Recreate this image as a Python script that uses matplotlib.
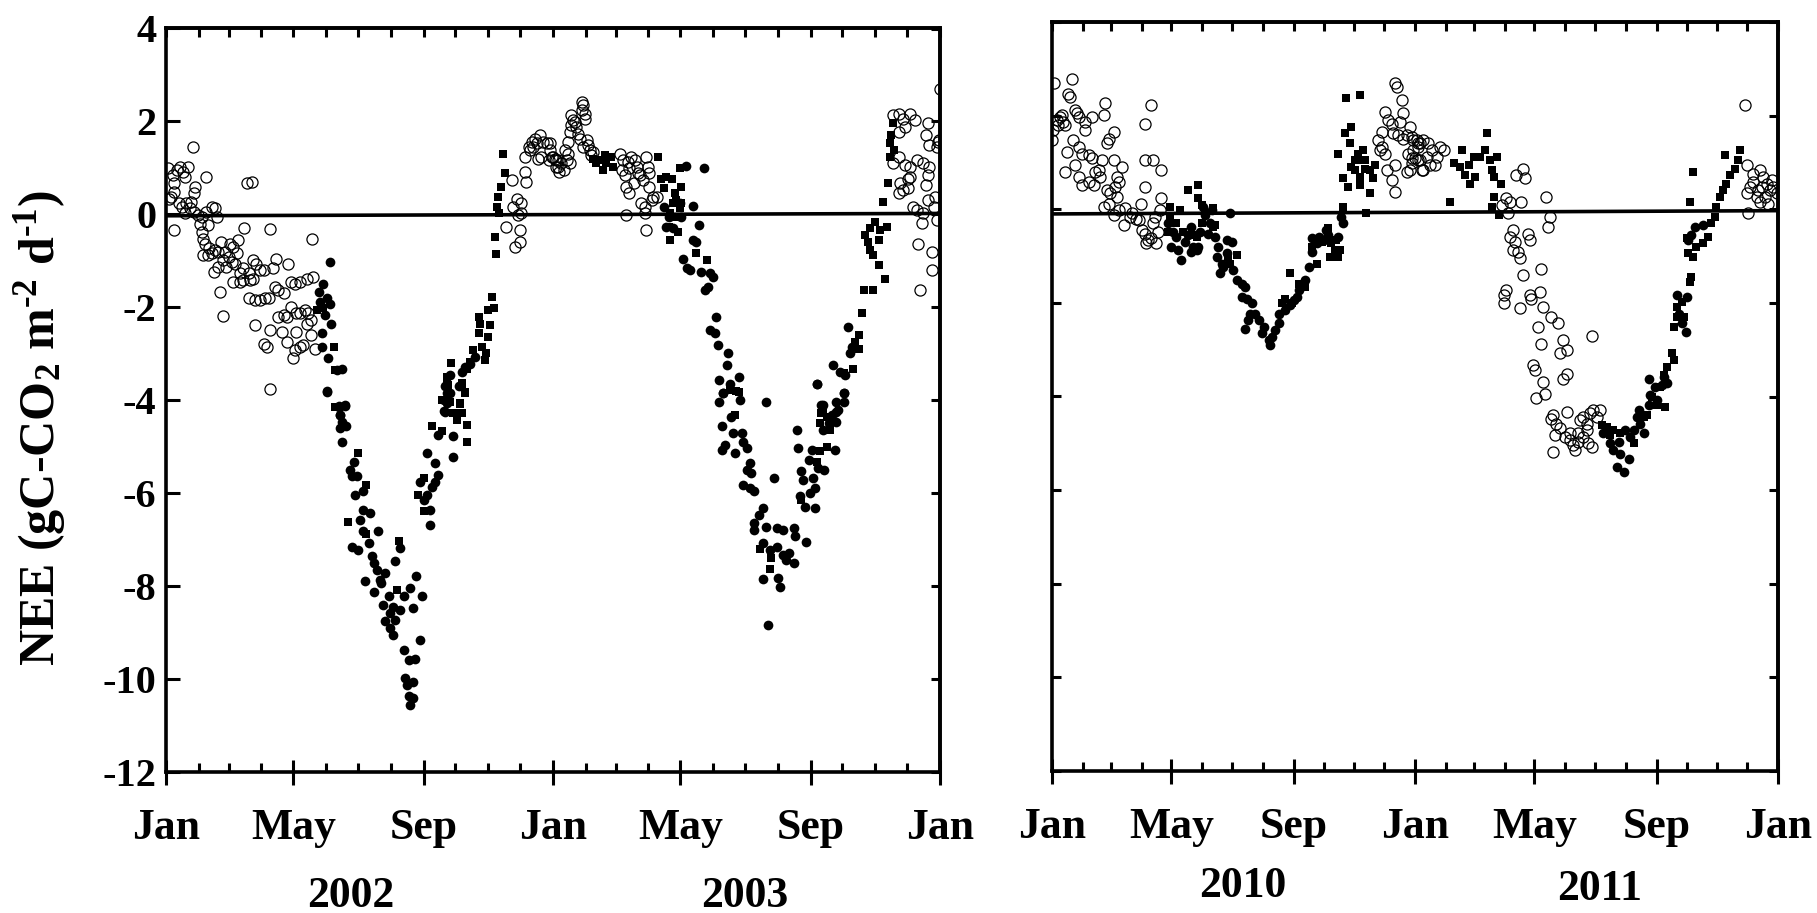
import matplotlib
matplotlib.use("Agg")
import matplotlib.pyplot as plt
import numpy as np
from matplotlib.transforms import blended_transform_factory

plt.rcParams['font.family'] = ['Liberation Serif', 'DejaVu Serif']
plt.rcParams['font.weight'] = 'bold'
plt.rcParams['axes.unicode_minus'] = False
plt.rcParams['mathtext.fontset'] = 'custom'
plt.rcParams['mathtext.rm'] = 'Liberation Serif:bold'
plt.rcParams['mathtext.it'] = 'Liberation Serif:bold'
plt.rcParams['mathtext.bf'] = 'Liberation Serif:bold'

# ---------------- data: (day since 1 Jan of first year, NEE) ----------------
left_open = [
    (2,0.99),(3,0.34),(7,0.85),(8,0.67),(10,0.95),(13,1.02),(16,0.92),(21,1.02),(18,0.81),(8,0.49),
    (5,0.38),(12,0.24),(15,0.16),(19,0.24),(24,0.27),(26,0.45),(27,0.59),(23,0.13),(18,0.02),(26,0.06),
    (30,-0.02),(8,-0.34),(25,1.46),(38,0.80),(34,-0.05),(38,0.06),(43,0.16),(46,0.13),(48,-0.05),(32,-0.20),
    (40,-0.23),(34,-0.37),(35,-0.52),(37,-0.63),(41,-0.73),(35,-0.88),(40,-0.88),(43,-0.84),(46,-0.77),(49,-0.80),
    (52,-0.59),(56,-0.80),(60,-0.63),(63,-0.70),(68,-0.55),(74,-0.30),(45,-1.24),(49,-1.13),(54,-0.98),(59,-0.91),
    (62,-1.02),(65,-1.06),(67,-0.84),(57,-1.13),(51,-1.67),(54,-2.19),(70,-1.27),(73,-1.16),(78,-1.27),(82,-0.98),
    (85,-1.06),(89,-1.20),(92,-1.20),(73,-1.41),(63,-1.45),(70,-1.45),(79,-1.41),(82,-1.38),(78,-1.81),(84,-1.85),
    (89,-1.85),(93,-1.81),(97,-1.81),(98,-0.32),(101,-1.16),(104,-0.95),(103,-1.56),(106,-1.63),(111,-1.70),(115,-1.06),
    (118,-1.45),(122,-1.49),(126,-1.45),(133,-1.38),(139,-1.34),(138,-0.52),(106,-2.20),(111,-2.17),(114,-2.20),(118,-1.99),
    (123,-2.13),(126,-2.13),(131,-2.06),(134,-2.13),(137,-2.28),(98,-3.75),(84,-2.38),(92,-2.78),(95,-2.85),(98,-2.49),
    (109,-2.53),(114,-2.74),(120,-3.10),(122,-2.92),(126,-2.85),(129,-2.81),(137,-2.60),(133,-2.35),(123,-2.53),(141,-2.89),
    (76,0.67),(81,0.70),
    (321,-0.27),(329,-0.70),(334,-0.59),(334,-0.34),(335,0.24),(331,0.34),(327,0.16),(326,0.74),(339,0.92),(340,0.70),
    (335,0.02),(332,-0.02),(339,1.24),(342,1.45),(345,1.56),(348,1.63),(353,1.71),(356,1.56),(359,1.53),(351,1.20),
    (354,1.24),(362,1.38),(365,1.24),(368,1.17),(370,1.02),(343,1.38),(346,1.45),(350,1.53),(361,1.17),
    (362,1.53),(364,1.24),(367,1.20),(370,1.17),(373,1.10),(375,0.95),(378,1.17),(381,1.10),(379,1.31),(376,1.38),
    (368,1.02),(371,0.92),(379,1.56),(381,1.78),(382,1.92),(384,2.03),(382,2.14),(386,1.99),(387,1.89),(389,1.74),
    (390,1.63),(392,2.42),(393,2.35),(395,2.17),(392,2.24),(395,2.06),(397,1.60),(398,1.49),(400,1.38),(401,1.28),
    (403,1.35),(393,1.45),(428,1.31),(431,1.17),(430,0.95),(433,0.85),(436,1.13),(437,0.99),(439,1.24),(442,1.17),
    (444,1.02),(445,0.88),(447,0.85),(450,0.74),(453,1.24),(455,1.02),(456,0.88),(459,0.38),(463,0.38),(448,0.24),
    (452,0.16),(434,-0.02),(452,0.02),(453,-0.34),(434,0.59),(437,0.45),(441,0.67),(456,0.59),(458,0.31),
    (686,2.14),(691,2.17),(695,2.06),(702,2.17),(706,2.03),(719,1.96),(730,2.69),(691,1.78),(697,1.89),(717,1.71),
    (720,1.49),(727,1.45),(728,1.56),(729,1.60),(686,1.10),(691,1.24),(697,1.06),(702,1.02),(708,1.17),(714,1.10),
    (720,1.02),(700,0.77),(692,0.67),(695,0.52),(700,0.56),(691,0.45),(705,0.16),(708,0.09),(713,-0.19),(717,0.63),
    (719,0.31),(724,0.16),(725,0.38),(709,-0.63),(722,-0.80),(722,-1.20),(711,-1.63),(727,-0.12),(714,0.02),(702,0.81),
    (719,0.85),
]

left_filled = [
    (155,-1.02),(148,-1.49),(144,-1.67),(145,-1.88),(152,-1.81),(155,-1.92),(150,-2.17),(156,-2.35),(147,-2.56),(147,-2.85),
    (153,-3.10),(161,-3.35),(166,-3.32),(152,-3.82),(163,-4.14),(169,-4.10),(164,-4.32),(268,-3.46),(279,-3.39),(282,-3.28),
    (287,-3.21),(291,-3.06),(265,-3.85),(263,-4.25),(262,-4.00),
    (152,-3.81),(163,-4.13),(169,-4.12),(164,-4.31),(166,-4.46),(164,-4.60),(170,-4.56),(166,-4.89),(177,-5.32),(174,-5.50),
    (175,-5.64),(180,-5.64),(178,-6.03),(186,-5.96),(186,-6.36),(192,-6.43),(183,-6.57),(186,-6.82),(191,-7.07),(200,-6.82),
    (175,-7.15),(181,-7.22),(194,-7.36),(196,-7.51),(199,-7.65),(207,-7.72),(202,-7.86),(188,-7.90),(196,-8.12),(203,-7.94),
    (210,-8.22),(216,-7.47),(221,-7.18),(205,-8.40),(214,-8.44),(221,-8.51),(211,-8.58),(207,-8.76),(216,-8.72),(211,-8.90),
    (214,-9.05),(224,-8.22),(233,-8.47),(230,-8.04),(236,-7.79),(241,-8.22),(240,-9.16),(224,-9.37),(229,-9.59),(235,-9.57),
    (225,-9.98),(233,-10.07),(227,-10.12),(229,-10.37),(233,-10.41),(230,-10.55),(246,-5.14),(254,-5.35),(257,-5.60),(254,-5.75),
    (251,-5.86),(246,-6.03),(243,-6.14),(249,-6.36),(249,-6.68),(257,-4.74),(271,-4.78),(271,-5.22),(262,-4.24),(265,-4.06),
    (268,-3.85),(263,-3.70),(276,-3.70),(240,-5.75),
    (490,1.04),(507,0.99),(497,0.18),(503,-0.23),(497,-0.55),(500,-0.59),(488,-0.95),(491,-1.16),(494,-1.20),(505,-1.24),
    (513,-1.27),(516,-1.34),(508,-1.63),(511,-1.56),(519,-2.20),(513,-2.49),(518,-2.56),(521,-2.81),(530,-2.99),(529,-3.24),
    (522,-3.57),(532,-3.64),(540,-3.49),(525,-3.85),(522,-4.03),(541,-4.00),(566,-4.03),(614,-3.64),(629,-3.24),(636,-3.39),
    (640,-3.46),(643,-2.42),(645,-2.99),(647,-2.85),(639,-3.85),(632,-4.03),(618,-4.10),(632,-4.25),(472,-0.27),(478,-0.30),
    (485,0.24),(486,-0.05),(470,0.16),(474,-0.05),
    (525,-3.85),(533,-4.35),(524,-4.56),(535,-4.71),(543,-4.71),(544,-4.89),(548,-5.03),(527,-4.96),(524,-5.07),(537,-5.14),
    (551,-5.35),(548,-5.50),(552,-5.57),(544,-5.82),(551,-5.89),(555,-5.96),(563,-6.32),(559,-6.47),(555,-6.64),(555,-6.79),
    (566,-6.72),(576,-6.75),(582,-6.79),(592,-6.75),(593,-6.93),(604,-7.05),(563,-7.07),(570,-7.22),(576,-7.15),(582,-7.33),
    (588,-7.29),(592,-7.51),(585,-7.43),(577,-7.83),(579,-8.01),(563,-7.84),(568,-8.83),(573,-5.68),(595,-4.64),(596,-5.03),
    (609,-5.07),(606,-5.28),(599,-5.53),(601,-5.71),(610,-5.68),(612,-5.89),(607,-6.00),(598,-6.07),(603,-6.29),(612,-6.32),
    (615,-5.46),(621,-5.50),(631,-5.07),(620,-4.64),(625,-4.49),(632,-4.46),(628,-4.31),(634,-4.21),(639,-4.03),(639,-3.85),
    (620,-4.10),(614,-3.65),
]

left_square = [
    (318,1.31),(320,0.90),(316,0.59),(313,0.38),(312,0.16),(314,0.02),(310,-0.48),(311,-0.86),(307,-1.77),(309,-2.02),
    (304,-2.06),(295,-2.20),(296,-2.35),(306,-2.38),(295,-2.56),(304,-2.63),(290,-2.92),(298,-2.85),(302,-2.99),(301,-3.14),
    (287,-3.17),(284,-3.32),(269,-3.19),(265,-3.49),(266,-3.67),(279,-3.64),(282,-3.82),(277,-4.07),(279,-4.28),(271,-4.28),
    (158,-2.85),(159,-3.35),(142,-2.06),(148,-2.02),(159,-4.14),
    (181,-5.14),(189,-5.82),(172,-6.61),(189,-6.87),(220,-7.02),(218,-8.08),(251,-4.56),(260,-4.67),(243,-5.68),(238,-6.03),
    (243,-6.39),(284,-4.53),(284,-4.89),(265,-3.63),(279,-3.63),(282,-3.85),(277,-4.06),(274,-4.28),(274,-4.42),(268,-4.03),
    (260,-3.99),
    (464,1.24),(485,0.99),(486,0.59),(477,0.77),(472,0.81),(467,0.77),(470,0.56),(480,0.45),(481,0.31),(478,0.24),
    (486,0.24),(475,0.02),(481,-0.05),(485,0.13),(474,-0.27),(483,-0.37),(475,-0.55),(510,-0.98),(500,-0.84),(409,1.17),
    (412,0.95),(415,1.10),(420,1.24),(422,1.02),(406,1.10),(403,1.20),(414,1.28),(686,1.96),(684,1.71),(683,1.53),
    (687,1.38),(683,1.24),(681,0.67),(676,0.27),(669,-0.16),(664,-0.30),(659,-0.45),(662,-0.59),(673,-0.34),(680,-0.27),
    (672,-0.55),(664,-0.77),(667,-0.88),(672,-1.09),(678,-1.38),(667,-1.63),(658,-1.63),(656,-2.13),(654,-2.60),(650,-2.74),
    (654,-2.89),(648,-3.32),(639,-3.42),(537,-4.32),(623,-4.36),(620,-4.28),(540,-3.82),(532,-3.78),
    (538,-3.81),(537,-4.31),(560,-7.20),(571,-7.40),(570,-7.63),(618,-4.28),(617,-4.49),(626,-4.64),(623,-5.00),(614,-5.32),
    (599,-6.14),(617,-5.10),
]

right_open = [
    (2,2.69),(20,2.79),(16,2.47),(18,2.40),(0,1.48),(1,1.69),(5,1.90),(8,1.98),(11,1.87),(10,2.01),
    (13,1.80),(6,1.80),(23,2.12),(25,2.05),(27,1.98),(33,1.87),(40,1.98),(52,2.01),(53,2.27),(33,1.69),
    (15,1.23),(13,0.80),(21,1.48),(27,1.33),(30,1.19),(37,1.16),(40,1.09),(23,0.94),(27,0.69),(30,0.52),
    (37,0.59),(43,0.80),(47,0.84),(48,0.69),(42,0.52),(50,1.05),(55,1.41),(57,1.51),(62,1.65),(62,1.05),
    (70,0.91),(65,0.69),(67,0.59),(63,0.48),(55,0.41),(58,0.34),(65,0.27),(52,0.05),(57,0.12),(62,-0.13),
    (67,-0.02),(73,0.02),(72,-0.34),(78,-0.16),(80,-0.09),(84,-0.20),(89,0.12),(94,1.05),(102,1.05),(110,0.84),
    (94,0.48),(94,1.83),(100,2.22),(87,-0.23),(90,-0.45),(94,-0.52),(97,-0.66),(100,-0.62),(104,-0.16),(109,-0.02),
    (110,0.23),(107,-0.48),(102,-0.30),(105,-0.73),(95,-0.73),
    (345,2.69),(347,2.62),(352,2.33),(353,2.05),(350,1.87),(335,2.08),(338,1.90),(342,1.83),(343,1.62),(332,1.65),
    (328,1.48),(330,1.26),(335,1.19),(348,1.58),(353,1.51),(357,1.58),(362,1.55),(367,1.48),(370,1.41),(363,1.26),
    (358,1.19),(362,1.09),(368,1.05),(372,0.84),(357,0.80),(345,0.94),(337,0.84),(342,0.62),(345,0.37),(332,1.33),
    (368,1.33),
    (360,1.76),(363,1.48),(368,1.41),(373,1.48),(378,1.41),(382,1.26),(377,1.12),(370,1.05),(365,1.09),(362,0.98),
    (373,0.84),(380,0.94),(385,0.94),(390,1.33),(394,1.26),(387,1.12),(360,0.84),
    (467,0.73),(474,0.87),(476,0.66),(461,0.16),(456,0.23),(452,0.09),(472,0.16),(497,0.27),(501,-0.16),(499,-0.37),
    (459,-0.09),(464,-0.45),(461,-0.59),(466,-0.70),(464,-0.87),(469,-0.91),(471,-1.05),(479,-0.52),(481,-0.66),(492,-1.27),
    (474,-1.41),(456,-1.73),(454,-1.83),(454,-2.01),(471,-2.12),(481,-1.83),(482,-1.91),(491,-1.76),(494,-2.08),(502,-2.30),
    (509,-2.44),(489,-2.51),(492,-2.87),(514,-2.80),(511,-3.08),(518,-3.01),(484,-3.33),(486,-3.44),(494,-3.69),(496,-3.94),
    (487,-4.04),(514,-3.62),(518,-3.51),(543,-2.70),(504,-4.40),(518,-4.33),(502,-4.47),(507,-4.58),(511,-4.68),(506,-4.83),
    (504,-5.18),(516,-4.86),(521,-4.93),(524,-5.04),(526,-5.15),(529,-4.79),(531,-4.51),(534,-4.43),(538,-4.58),(541,-4.36),
    (544,-4.29),(548,-4.43),(551,-4.29),(534,-4.86),(539,-5.00),(543,-5.08),(529,-4.97),(521,-4.79),(538,-4.72),
    (697,2.22),(699,0.94),(705,0.76),(712,0.84),(715,0.69),(719,0.55),(722,0.41),(725,0.48),(729,0.34),(699,0.34),
    (700,-0.09),(702,0.48),(709,0.27),(712,0.16),(717,0.27),(720,0.12),(705,0.59),(710,0.41),(724,0.62),(714,0.48),
]

right_filled = [
    (117,-0.30),(122,-0.48),(125,-0.59),(120,-0.80),(127,-0.87),(130,-1.09),(134,-0.70),(137,-0.55),(140,-0.37),(142,-0.80),
    (146,-0.87),(149,-0.48),(152,0.05),(154,-0.13),(159,-0.30),(161,-0.02),(164,-0.59),(167,-0.80),(166,-1.02),(171,-1.16),
    (176,-0.94),(179,-0.09),(176,-0.66),(181,-0.70),(169,-1.37),(172,-1.23),(182,-1.30),(186,-1.51),(191,-1.59),(194,-1.66),
    (191,-1.87),(196,-1.91),(201,-2.01),(199,-2.23),(204,-2.23),(197,-2.37),(194,-2.55),(208,-2.37),(213,-2.51),(211,-2.65),
    (218,-2.80),(221,-2.73),(224,-2.58),(228,-2.44),(228,-2.23),(234,-2.16),(239,-2.05),(243,-1.94),(246,-1.87),(248,-1.73),
    (251,-1.59),(254,-1.51),(258,-1.23),(261,-0.91),(261,-0.62),(266,-0.73),(268,-0.59),(273,-0.66),(276,-0.45),(278,-0.55),
    (288,-0.59),(291,-0.16),(293,-0.30),(219,-2.90),(157,-0.52),(147,-0.80),(140,-0.91),
    (554,-4.79),(561,-5.00),(564,-5.15),(570,-4.97),(571,-5.22),(568,-5.50),(575,-5.61),(580,-5.33),(581,-4.86),(585,-4.72),
    (591,-4.58),(595,-4.79),(590,-4.29),(600,-4.19),(601,-3.97),(606,-3.79),(608,-4.08),(600,-3.62),(613,-3.76),(618,-3.72),
    (615,-3.58),(588,-4.43),(576,-4.72),(628,-1.83),(638,-1.87),(630,-2.23),(633,-2.44),(637,-2.62),(647,-0.37),(655,-0.34),
    (643,-0.55),(640,-0.66),
]

right_square = [
    (119,0.05),(129,-0.02),(137,0.41),(147,0.52),(147,0.23),(151,0.09),(154,-0.09),(162,0.02),(164,-0.34),(146,-0.59),
    (151,-0.30),(142,-0.55),(119,-0.16),(125,-0.30),(132,-0.48),(117,-0.48),(162,-0.37),(177,-1.02),(186,-0.98),(179,-1.16),
    (239,-1.37),(234,-1.91),(231,-2.01),(241,-2.01),(248,-1.59),(254,-1.66),(266,-1.16),(261,-0.80),(271,-0.70),(278,-0.41),
    (281,-0.73),(286,-0.66),(290,-0.87),(288,-1.02),(280,-1.02),(285,-0.87),(293,0.05),(296,2.37),(310,2.44),(301,1.76),
    (295,1.62),(300,1.41),(288,1.19),(293,0.66),(298,0.48),(301,0.91),(305,1.05),(308,1.19),(313,1.26),(315,1.05),
    (320,0.84),(323,0.66),(320,0.34),(325,0.94),(316,-0.09),(310,0.69),(305,0.84),(315,0.87),(311,1.05),(310,0.52),
    (400,0.16),(412,1.26),(410,0.91),(404,0.98),(419,0.94),(415,0.73),(420,0.55),(425,0.69),(424,1.12),(430,1.12),
    (437,1.62),(435,1.26),(440,1.05),(447,1.12),(442,0.84),(444,0.69),(451,0.55),(444,0.27),(442,0.05),(449,-0.13),
    (645,0.80),(642,0.16),(677,1.16),(692,1.26),(690,1.05),(687,0.87),(682,0.73),(678,0.55),(675,0.41),(672,0.27),
    (668,0.05),(667,-0.16),(663,-0.30),(660,-0.59),(655,-0.73),(648,-0.80),(638,-0.62),(640,-0.94),(645,-1.02),(643,-1.44),
    (642,-1.55),(628,-2.08),(628,-2.30),(635,-2.30),(625,-2.51),(623,-3.08),(625,-3.22),(618,-3.37),(615,-3.54),(611,-3.79),
    (616,-4.22),(608,-4.19),(603,-4.01),(598,-4.40),(595,-4.43),(585,-5.00),(571,-4.79),(564,-4.72),(558,-4.65),(553,-4.61),
    (561,-4.83),(633,-1.98),
]

# regression lines: (start value, end value) over the two years
fit_left = [-0.03, 0.02]
fit_right = [-0.10, -0.03]

years_left = ['2002', '2003']
years_right = ['2010', '2011']
month_names = ['Jan', 'May', 'Sep']
month_len = [31, 28, 31, 30, 31, 30, 31, 31, 30, 31, 30, 31]
y_ticks = [4, 2, 0, -2, -4, -6, -8, -10, -12]

# month starts over two years
month_starts = np.concatenate([[0], np.cumsum(month_len * 2)])
major_idx = [0, 4, 8, 12, 16, 20, 24]
major_pos = month_starts[major_idx]
minor_pos = [m for i, m in enumerate(month_starts) if i not in major_idx]
major_lab = [month_names[(i % 12) // 4] for i in major_idx]

W, H = 1817, 913
fig = plt.figure(figsize=(W / 100, H / 100), dpi=100)
axL = fig.add_axes([166 / W, 1 - 772 / H, (940 - 166) / W, (772 - 28.5) / H])
axR = fig.add_axes([1052 / W, 1 - 771 / H, (1778 - 1052) / W, (771 - 22) / H])

XFS = 31.5
YFS = 29
SPW = 2.6


def draw(ax, opn, fil, sq, fit, show_ylab, left_len):
    o = np.array(opn); f = np.array(fil); s = np.array(sq)
    ax.plot(o[:, 0], o[:, 1], 'o', ms=8.0, mfc='none', mec='black', mew=0.9, zorder=2)
    ax.plot(f[:, 0], f[:, 1], 'o', ms=7.0, mfc='black', mec='black', mew=0, zorder=3)
    ax.plot(s[:, 0], s[:, 1], 's', ms=6.3, mfc='black', mec='black', mew=0, zorder=3)
    ax.plot([0, 730], fit, color='black', lw=2.6, zorder=4, solid_capstyle='butt')
    ax.set_xlim(0, 730)
    ax.set_ylim(-12, 4)
    for sp in ax.spines.values():
        sp.set_linewidth(SPW)
    ax.set_xticks(major_pos)
    ax.set_xticklabels(major_lab, fontsize=XFS, fontweight='bold')
    ax.set_xticks(minor_pos, minor=True)
    ax.tick_params(axis='x', which='major', direction='inout', length=18, width=2.2, pad=17, top=False)
    ax.tick_params(axis='x', which='minor', direction='in', length=6.5, width=2.2, top=False)
    ax.set_yticks(y_ticks)
    ax.tick_params(axis='y', which='major', direction='in', length=left_len, width=2.2, right=False,
                   pad=7, labelleft=show_ylab, labelsize=YFS)
    if show_ylab:
        ax.set_yticklabels([str(v) for v in y_ticks], fontweight='bold')
    sec = ax.secondary_yaxis('right')
    sec.set_yticks(y_ticks)
    sec.tick_params(direction='in', length=6.5, width=2.2, labelright=False)
    sec.spines['right'].set_linewidth(SPW)
    top = ax.secondary_xaxis('top')
    top.set_xticks(month_starts)
    top.tick_params(direction='in', length=6.5, width=2.2, labeltop=False)
    top.spines['top'].set_linewidth(SPW)


draw(axL, left_open, left_filled, left_square, fit_left, True, 10)
draw(axR, right_open, right_filled, right_square, fit_right, False, 6.5)

trL = blended_transform_factory(axL.transData, fig.transFigure)
trR = blended_transform_factory(axR.transData, fig.transFigure)
axL.text(174, 1 - 896 / H, years_left[0], transform=trL, ha='center', va='center', fontsize=XFS, fontweight='bold')
axL.text(546, 1 - 896 / H, years_left[1], transform=trL, ha='center', va='center', fontsize=XFS, fontweight='bold')
axR.text(192, 1 - 886 / H, years_right[0], transform=trR, ha='center', va='center', fontsize=XFS, fontweight='bold')
axR.text(551, 1 - 889 / H, years_right[1], transform=trR, ha='center', va='center', fontsize=XFS, fontweight='bold')

fig.text(40.5 / W, 1 - 428 / H, r'NEE (gC-CO$_{2}$ m$^{\text{-2}}$ d$^{\text{-1}}$)', rotation=90,
         ha='center', va='center', fontsize=36, fontweight='bold')

fig.savefig('out.png', dpi=100, facecolor='white')
